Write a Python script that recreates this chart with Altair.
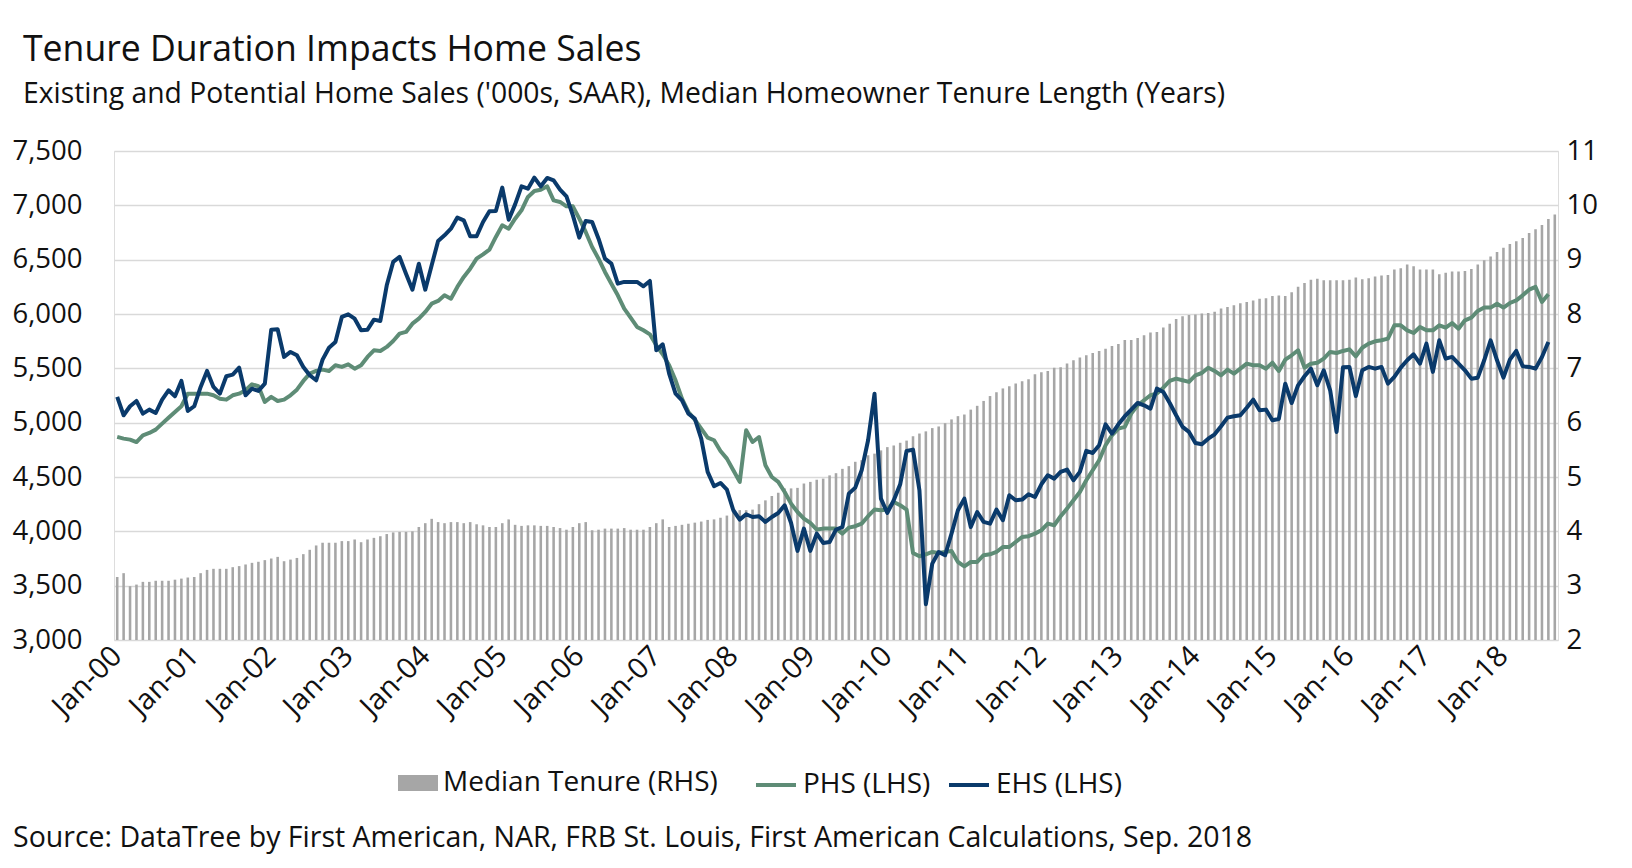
import altair as alt
import pandas as pd

# ---------------- data ----------------
month_names = ["Jan", "Feb", "Mar", "Apr", "May", "Jun",
               "Jul", "Aug", "Sep", "Oct", "Nov", "Dec"]
years = list(range(2000, 2019))
months = [f"{m}-{str(y)[2:]}" for y in years for m in month_names][:225]  # Jan-00 .. Sep-18
jan_ticks = [m for m in months if m.startswith("Jan")]

# Median homeowner tenure length (years, RHS), Jan-00 .. Sep-18
tenure = [
    3.16, 3.23, 2.99, 3.02, 3.07, 3.07, 3.09, 3.09, 3.09, 3.11, 3.13, 3.15,
    3.16, 3.23, 3.29, 3.31, 3.31, 3.31, 3.34, 3.36, 3.39, 3.42, 3.44, 3.47,
    3.50, 3.53, 3.45, 3.48, 3.51, 3.58, 3.66, 3.74, 3.79, 3.79, 3.79, 3.82,
    3.82, 3.85, 3.80, 3.85, 3.88, 3.91, 3.95, 3.98, 3.99, 3.99, 4.00, 4.08,
    4.15, 4.23, 4.17, 4.15, 4.17, 4.17, 4.15, 4.17, 4.13, 4.11, 4.08, 4.08,
    4.15, 4.22, 4.12, 4.10, 4.11, 4.11, 4.10, 4.10, 4.08, 4.06, 4.03, 4.08,
    4.15, 4.17, 4.02, 4.03, 4.05, 4.05, 4.05, 4.06, 4.03, 4.03, 4.03, 4.08,
    4.15, 4.22, 4.08, 4.10, 4.12, 4.14, 4.16, 4.18, 4.21, 4.22, 4.25, 4.29,
    4.36, 4.39, 4.39, 4.40, 4.50, 4.57, 4.65, 4.71, 4.79, 4.79, 4.80, 4.88,
    4.91, 4.95, 4.97, 5.03, 5.07, 5.15, 5.20, 5.28, 5.31, 5.40, 5.43, 5.49,
    5.55, 5.58, 5.63, 5.67, 5.75, 5.80, 5.84, 5.90, 5.93, 5.99, 6.06, 6.12,
    6.15, 6.24, 6.31, 6.40, 6.49, 6.56, 6.63, 6.67, 6.72, 6.76, 6.80, 6.89,
    6.93, 6.95, 7.01, 7.02, 7.09, 7.15, 7.20, 7.24, 7.28, 7.32, 7.36, 7.41,
    7.45, 7.52, 7.52, 7.56, 7.61, 7.66, 7.67, 7.75, 7.82, 7.91, 7.96, 7.98,
    7.99, 8.01, 8.02, 8.04, 8.10, 8.13, 8.16, 8.20, 8.22, 8.25, 8.28, 8.29,
    8.33, 8.34, 8.33, 8.40, 8.50, 8.57, 8.63, 8.65, 8.62, 8.62, 8.62, 8.62,
    8.63, 8.67, 8.64, 8.66, 8.69, 8.71, 8.72, 8.82, 8.84, 8.91, 8.88, 8.82,
    8.82, 8.82, 8.73, 8.76, 8.78, 8.78, 8.79, 8.83, 8.91, 8.99, 9.06, 9.14,
    9.22, 9.29, 9.34, 9.40, 9.49, 9.56, 9.64, 9.75, 9.83,
]

# Potential home sales ('000s, SAAR, LHS), Jan-00 .. Aug-18
phs = [
    4869, 4853, 4844, 4822, 4884, 4905, 4936, 4991, 5046, 5099, 5151, 5267,
    5267, 5267, 5267, 5252, 5221, 5212, 5252, 5267, 5298, 5353, 5335, 5191,
    5237, 5200, 5212, 5252, 5304, 5384, 5451, 5476, 5488, 5476, 5528, 5513,
    5537, 5497, 5528, 5605, 5666, 5660, 5697, 5752, 5819, 5835, 5911, 5957,
    6019, 6095, 6120, 6172, 6141, 6249, 6341, 6417, 6509, 6549, 6592, 6709,
    6816, 6785, 6877, 6954, 7077, 7132, 7144, 7175, 7046, 7031, 6991, 6991,
    6877, 6755, 6617, 6509, 6387, 6279, 6172, 6049, 5966, 5881, 5850, 5813,
    5712, 5629, 5528, 5390, 5221, 5099, 5028, 4945, 4862, 4838, 4740, 4669,
    4562, 4455, 4930, 4822, 4868, 4608, 4500, 4455, 4362, 4255, 4178, 4117,
    4077, 4016, 4025, 4025, 4025, 3979, 4034, 4047, 4071, 4139, 4200, 4194,
    4200, 4270, 4240, 4200, 3801, 3771, 3789, 3810, 3801, 3810, 3820, 3718,
    3678, 3718, 3718, 3780, 3789, 3810, 3856, 3856, 3902, 3948, 3955, 3979,
    4010, 4071, 4056, 4139, 4209, 4286, 4362, 4470, 4562, 4654, 4792, 4884,
    4945, 4961, 5083, 5160, 5206, 5252, 5267, 5322, 5384, 5405, 5390, 5375,
    5436, 5457, 5506, 5476, 5436, 5488, 5451, 5497, 5543, 5528, 5528, 5497,
    5552, 5476, 5580, 5620, 5666, 5506, 5543, 5552, 5589, 5651, 5641, 5660,
    5675, 5611, 5690, 5727, 5749, 5758, 5773, 5896, 5896, 5850, 5825, 5881,
    5850, 5850, 5896, 5874, 5917, 5865, 5942, 5966, 6028, 6059, 6059, 6095,
    6059, 6101, 6126, 6172, 6224, 6249, 6111, 6181,
]

# Existing home sales ('000s, SAAR, LHS), Jan-00 .. Aug-18
ehs = [
    5237, 5068, 5151, 5200, 5083, 5120, 5089, 5212, 5298, 5243, 5384, 5108,
    5151, 5329, 5476, 5329, 5267, 5427, 5442, 5506, 5252, 5313, 5292, 5359,
    5856, 5859, 5605, 5651, 5620, 5513, 5436, 5390, 5580, 5690, 5743, 5973,
    5997, 5957, 5850, 5856, 5948, 5936, 6264, 6479, 6525, 6371, 6224, 6463,
    6224, 6448, 6672, 6724, 6785, 6887, 6862, 6715, 6715, 6847, 6945, 6948,
    7163, 6868, 7009, 7175, 7153, 7255, 7175, 7252, 7230, 7144, 7083, 6908,
    6703, 6856, 6847, 6693, 6509, 6463, 6279, 6295, 6295, 6295, 6255, 6304,
    5666, 5721, 5451, 5267, 5206, 5083, 5037, 4853, 4547, 4415, 4445, 4384,
    4194, 4108, 4157, 4132, 4139, 4087, 4132, 4169, 4240, 4077, 3820, 4025,
    3820, 3979, 3893, 3902, 4016, 4040, 4347, 4402, 4562, 4838, 5267, 4301,
    4169, 4286, 4433, 4740, 4752, 4378, 3330, 3703, 3810, 3780, 3979, 4194,
    4301, 4040, 4178, 4087, 4071, 4200, 4102, 4332, 4286, 4292, 4341, 4316,
    4433, 4516, 4485, 4547, 4568, 4470, 4547, 4740, 4721, 4792, 4985, 4899,
    4985, 5059, 5120, 5181, 5160, 5129, 5313, 5283, 5181, 5068, 4961, 4915,
    4813, 4801, 4853, 4893, 4967, 5046, 5059, 5068, 5138, 5212, 5114, 5120,
    5022, 5034, 5359, 5181, 5344, 5427, 5497, 5344, 5482, 5298, 4915, 5510,
    5513, 5245, 5482, 5513, 5497, 5513, 5359, 5421, 5507, 5574, 5629, 5543,
    5727, 5467, 5758, 5589, 5605, 5543, 5482, 5405, 5414, 5574, 5758, 5574,
    5414, 5580, 5660, 5519, 5513, 5497, 5605, 5743,
]

bar_series = ["Median Tenure (RHS)"]
bar_colors = ["#A6A6A6"]
line_series = ["PHS (LHS)", "EHS (LHS)"]
line_colors = ["#5E8C76", "#0A3A6B"]

title_text = "Tenure Duration Impacts Home Sales"
subtitle_text = "Existing and Potential Home Sales ('000s, SAAR), Median Homeowner Tenure Length (Years)"
source_text = "Source: DataTree by First American, NAR, FRB St. Louis, First American Calculations, Sep. 2018"

FONT = "Open Sans"
TXT = "#111111"

# ---------------- tables ----------------
bars_df = pd.DataFrame({
    "month": months,
    "value": tenure,
    "series": bar_series[0],
    "base": 2,
})
n_line = len(phs)
lines_df = pd.DataFrame({
    "month": months[:n_line] * 2,
    "value": phs + ehs,
    "series": [line_series[0]] * n_line + [line_series[1]] * n_line,
    "order": list(range(n_line)) * 2,
})

x_scale = alt.Scale(domain=months, paddingInner=0.6, paddingOuter=0.3)
x_axis = alt.Axis(
    values=jan_ticks, labelAngle=-45, labelAlign="right", labelBaseline="middle",
    labelFontSize=29, labelFont=FONT, labelColor=TXT, labelPadding=11,
    ticks=False, domain=False, grid=False, title=None,
)

rect_path = "M-1,-0.4H1V0.4H-1Z"
bar_legend = alt.Legend(
    title=None, orient="none", legendX=284, legendY=612, direction="horizontal",
    labelFont=FONT, labelFontSize=28, labelColor=TXT, labelOffset=5, labelLimit=500,
    symbolType=rect_path, symbolSize=1600, symbolStrokeWidth=0, symbolOpacity=1,
)
line_legend = alt.Legend(
    title=None, orient="none", legendX=640, legendY=612, direction="horizontal",
    labelFont=FONT, labelFontSize=28, labelColor=TXT, labelOffset=5, labelLimit=500,
    symbolType="stroke", symbolSize=1600, symbolStrokeWidth=4, symbolOpacity=1,
    columnPadding=10,
)

bars = alt.Chart(bars_df).mark_bar(opacity=1).encode(
    x=alt.X("month:O", sort=months, scale=x_scale, axis=x_axis),
    y=alt.Y("value:Q", scale=alt.Scale(domain=[2, 11], zero=False, nice=False),
            axis=alt.Axis(orient="right", values=list(range(2, 12)), format="d", grid=False,
                          domain=False, ticks=False, labelFontSize=27.5, labelFont=FONT,
                          labelColor=TXT, labelPadding=8, title=None)),
    y2="base:Q",
    color=alt.Color("series:N", scale=alt.Scale(domain=bar_series, range=bar_colors),
                    legend=bar_legend),
)

lines = alt.Chart(lines_df).mark_line(strokeWidth=4, strokeJoin="round", strokeCap="butt").encode(
    x=alt.X("month:O", sort=months, scale=x_scale, axis=x_axis, bandPosition=0.5),
    y=alt.Y("value:Q", scale=alt.Scale(domain=[3000, 7500], zero=False, nice=False),
            axis=alt.Axis(orient="left", values=list(range(3000, 7501, 500)), format=",.0f",
                          grid=True, gridColor="#D9D9D9", gridWidth=1.5,
                          domain=False, ticks=False, labelFontSize=27.5, labelFont=FONT,
                          labelColor=TXT, labelPadding=32, title=None)),
    color=alt.Color("series:N", scale=alt.Scale(domain=line_series, range=line_colors),
                    legend=line_legend),
    order="order:Q",
)

def label(text, x, y, size):
    return alt.Chart(pd.DataFrame({"t": [text]})).mark_text(
        align="left", baseline="alphabetic", font=FONT, fontSize=size, color=TXT
    ).encode(text="t:N", x=alt.value(x), y=alt.value(y))

title = label(title_text, -91, -90, 35.6)
subtitle = label(subtitle_text, -91, -48, 28.3)
source = label(source_text, -101, 696, 28.5)

chart = alt.layer(bars, lines, title, subtitle, source).resolve_scale(
    y="independent", color="independent"
).properties(
    width=1444, height=489,
    autosize=alt.AutoSizeParams(type="none"),
    padding={"left": 106, "top": 143, "right": 58, "bottom": 218},
).configure_view(stroke=None).configure(background="white")

chart.save("out.html", embed_options={"renderer": "svg", "actions": False})
